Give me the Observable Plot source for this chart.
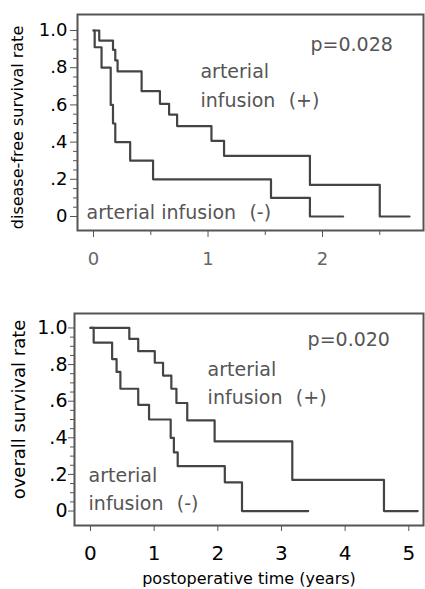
<!DOCTYPE html>
<html>
<head>
<meta charset="utf-8">
<script src="https://cdn.jsdelivr.net/npm/d3@7"></script>
<script src="https://cdn.jsdelivr.net/npm/@observablehq/plot@0.6"></script>
<style>
  html, body { margin: 0; padding: 0; background: #fff; }
  #chart svg { display: block; }
</style>
</head>
<body>
<div id="chart"></div>
<script>
// ---------- Data: disease-free survival (top panel) ----------
const dfsPlusTime  = [0, 0.05, 0.17, 0.19, 0.21, 0.42, 0.58, 0.66, 0.73, 1.03, 1.14, 1.89, 2.50, 2.76];
const dfsPlusRate  = [1.0, 0.946, 0.896, 0.839, 0.78, 0.674, 0.606, 0.548, 0.486, 0.407, 0.326, 0.17, 0, 0];
const dfsMinusTime = [0, 0.01, 0.07, 0.15, 0.17, 0.19, 0.32, 0.52, 1.55, 1.89, 2.18];
const dfsMinusRate = [1.0, 0.91, 0.80, 0.60, 0.50, 0.40, 0.30, 0.20, 0.10, 0, 0];

// ---------- Data: overall survival (bottom panel) ----------
const osPlusTime  = [0, 0.61, 0.75, 1.01, 1.14, 1.27, 1.35, 1.52, 1.95, 3.17, 4.61, 5.14];
const osPlusRate  = [1.0, 0.94, 0.873, 0.81, 0.74, 0.668, 0.59, 0.495, 0.38, 0.17, 0, 0];
const osMinusTime = [0, 0.05, 0.34, 0.41, 0.47, 0.75, 0.92, 1.26, 1.31, 1.37, 2.11, 2.38, 3.42];
const osMinusRate = [1.0, 0.92, 0.83, 0.76, 0.668, 0.58, 0.50, 0.40, 0.32, 0.245, 0.157, 0, 0];

// ---------- Ticks and labels ----------
const yTicks = [0, 0.2, 0.4, 0.6, 0.8, 1.0];
const yTickLabels = ["0", ".2", ".4", ".6", ".8", "1.0"];
const yMinorTicks = d3.range(0, 21).map(i => i * 0.05).filter(v => !yTicks.some(t => Math.abs(t - v) < 1e-9));
const xTicksTop = [0, 1, 2];
const xMinorTicksTop = [0.5, 1.5, 2.5];
const xTicksBottom = [0, 1, 2, 3, 4, 5];

const titleTopY = "disease-free survival rate";
const titleBottomY = "overall survival rate";
const titleX = "postoperative time (years)";
const pTop = "p=0.028";
const pBottom = "p=0.020";
const lblArterial = "arterial";
const lblInfPlus = "infusion\u2002\u2009(+)";
const lblInfMinus = "infusion\u2002\u2009(-)";
const lblMinusOneLine = "arterial infusion\u2002\u2009(-)";

const toRows = (t, r) => t.map((x, i) => ({t: x, r: r[i]}));
const yFmt = d => yTickLabels[yTicks.findIndex(v => Math.abs(v - d) < 1e-9)];
const xFmt = d => String(d);

const FONT = "DejaVu Sans";
const LINE = "#444";
const TXT = "#555";

const topPlot = Plot.plot({
  width: 425, height: 290,
  marginLeft: 77, marginRight: 2, marginTop: 14, marginBottom: 60,
  x: {domain: [-0.14, 2.882]},
  y: {domain: [-0.0753, 1.086]},
  style: {fontFamily: FONT, background: "#fff", overflow: "visible"},
  marks: [
    Plot.axisY(yMinorTicks, {tickSize: 4, fill: "none", stroke: "#555", label: null}),
    Plot.axisY(yTicks, {tickSize: 7, tickPadding: 3, tickFormat: yFmt, fontSize: 18, fill: "#000", stroke: "#555", label: null}),
    Plot.axisX(xMinorTicksTop, {tickSize: 5, fill: "none", stroke: "#555", label: null}),
    Plot.axisX(xTicksTop, {tickSize: 7, tickPadding: 15, tickFormat: xFmt, fontSize: 18, fill: "#666", stroke: "#555", label: null}),
    Plot.frame({stroke: "#555", strokeWidth: 2}),
    Plot.line(toRows(dfsPlusTime, dfsPlusRate), {x: "t", y: "r", curve: "step-after", stroke: LINE, strokeWidth: 2.2}),
    Plot.line(toRows(dfsMinusTime, dfsMinusRate), {x: "t", y: "r", curve: "step-after", stroke: LINE, strokeWidth: 2.2}),
    Plot.text([pTop], {x: 1.895, y: 0.892, textAnchor: "start", lineAnchor: "bottom", fontSize: 19, fill: TXT}),
    Plot.text([lblArterial], {x: 0.934, y: 0.745, textAnchor: "start", lineAnchor: "bottom", fontSize: 19, fill: TXT}),
    Plot.text([lblInfPlus], {x: 0.934, y: 0.591, textAnchor: "start", lineAnchor: "bottom", fontSize: 19, fill: TXT}),
    Plot.text([lblMinusOneLine], {x: -0.061, y: -0.012, textAnchor: "start", lineAnchor: "bottom", fontSize: 19, fill: TXT}),
    Plot.text([titleTopY], {frameAnchor: "left", textAnchor: "middle", dx: -60, dy: 5, rotate: -90, fontSize: 16, fill: "#000"})
  ]
});

const bottomPlot = Plot.plot({
  width: 425, height: 299,
  marginLeft: 74, marginRight: 2, marginTop: 23, marginBottom: 64,
  x: {domain: [-0.251, 5.231]},
  y: {domain: [-0.079, 1.079]},
  style: {fontFamily: FONT, background: "#fff", overflow: "visible"},
  marks: [
    Plot.axisY(yMinorTicks, {tickSize: 4, fill: "none", stroke: "#555", label: null}),
    Plot.axisY(yTicks, {tickSize: 6, tickPadding: 1, tickFormat: yFmt, fontSize: 19, fill: "#000", stroke: "#555", label: null}),
    Plot.axisX(xTicksBottom, {tickSize: 6, tickPadding: 14, tickFormat: xFmt, fontSize: 20, fill: "#000", stroke: "#555", label: null}),
    Plot.frame({stroke: "#555", strokeWidth: 2}),
    Plot.line(toRows(osPlusTime, osPlusRate), {x: "t", y: "r", curve: "step-after", stroke: LINE, strokeWidth: 2.2}),
    Plot.line(toRows(osMinusTime, osMinusRate), {x: "t", y: "r", curve: "step-after", stroke: LINE, strokeWidth: 2.2}),
    Plot.text([pBottom], {x: 3.41, y: 0.904, textAnchor: "start", lineAnchor: "bottom", fontSize: 19, fill: TXT}),
    Plot.text([lblArterial], {x: 1.84, y: 0.74, textAnchor: "start", lineAnchor: "bottom", fontSize: 19, fill: TXT}),
    Plot.text([lblInfPlus], {x: 1.84, y: 0.586, textAnchor: "start", lineAnchor: "bottom", fontSize: 19, fill: TXT}),
    Plot.text([lblArterial], {x: -0.03, y: 0.157, textAnchor: "start", lineAnchor: "bottom", fontSize: 19, fill: TXT}),
    Plot.text([lblInfMinus], {x: -0.03, y: 0.003, textAnchor: "start", lineAnchor: "bottom", fontSize: 19, fill: TXT}),
    Plot.text([titleBottomY], {frameAnchor: "left", textAnchor: "middle", dx: -55, dy: -10, rotate: -90, fontSize: 18, fill: "#000"}),
    Plot.text([titleX], {frameAnchor: "bottom", dy: 58, lineAnchor: "bottom", fontSize: 16, fill: "#000"})
  ]
});

const root = document.getElementById("chart");
root.appendChild(topPlot);
root.appendChild(bottomPlot);
</script>
</body>
</html>
